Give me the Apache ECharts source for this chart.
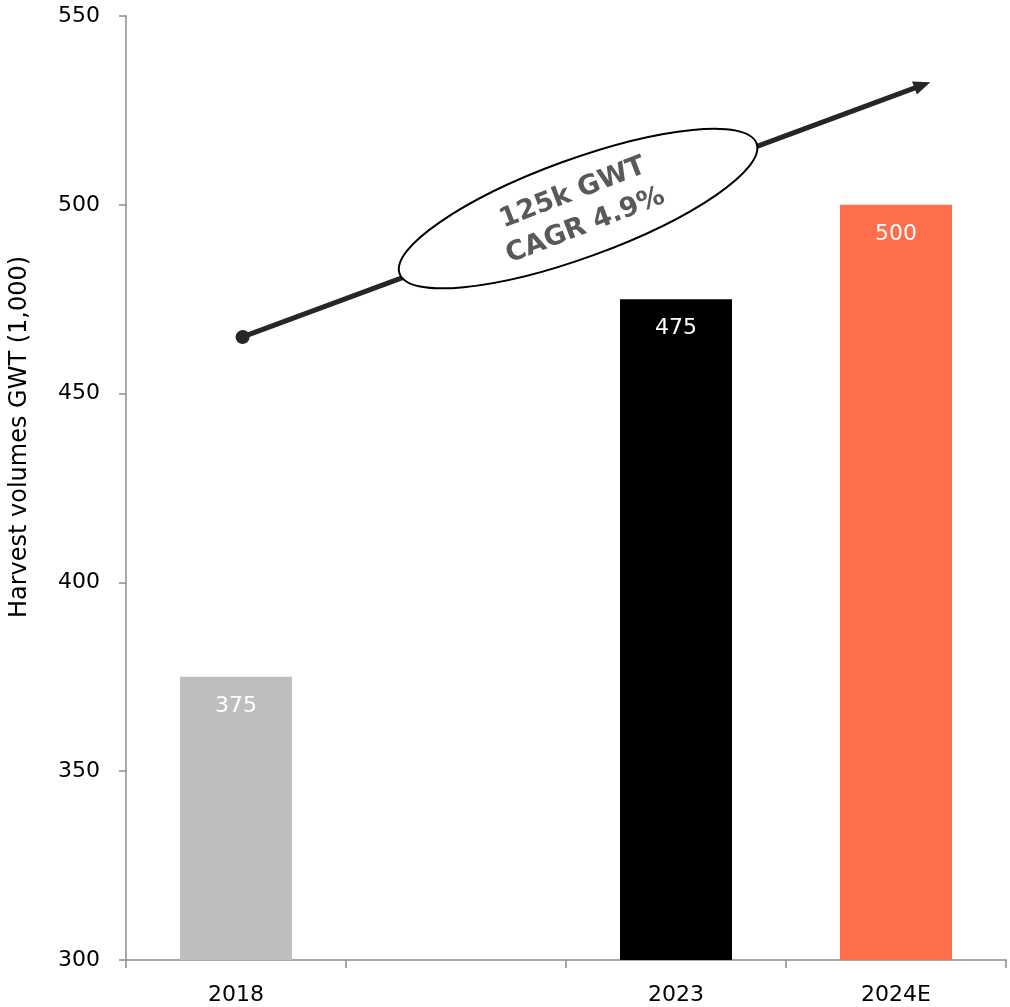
<!DOCTYPE html>
<html><head><meta charset="utf-8">
<script src="https://cdn.jsdelivr.net/npm/echarts@6/dist/echarts.min.js"></script>
<style>html,body{margin:0;padding:0;background:#fff}#c{width:1010px;height:1007px}</style>
</head><body><div id="c"></div>
<script>
const categories = ['2018', '', '2023', '2024E'];
const values = [375, null, 475, 500];
const barColors = ['#BDBEBD', null, '#000000', '#FF6E4A'];
const yMin = 300, yMax = 550, yInterval = 50;
const trendStart = [0.53, 465];
const trendEnd = [3.62, 531.7];
const annotationCenter = [2.055, 499];
const annotationText = ['125k GWT', 'CAGR 4.9%'];
const yAxisTitle = 'Harvest volumes GWT (1,000)';

const FONT = 'DejaVu Sans';
const chart = echarts.init(document.getElementById('c'));
const axisGray = '#8c8c8c';

chart.setOption({
  animation: false,
  grid: { left: 126, right: 4, top: 16, bottom: 47 },
  xAxis: [
    {
      type: 'category', data: categories,
      axisLine: { lineStyle: { color: axisGray, width: 1.5 } },
      axisTick: { show: true, length: 8, interval: 0, lineStyle: { color: axisGray, width: 1.5 } },
      axisLabel: { interval: 0, margin: 24, color: '#000', fontSize: 22, fontFamily: FONT }
    },
    { type: 'value', min: 0, max: 4, show: false }
  ],
  yAxis: {
    type: 'value', min: yMin, max: yMax, interval: yInterval,
    splitLine: { show: false },
    axisLine: { show: true, lineStyle: { color: axisGray, width: 1.5 } },
    axisTick: { show: true, length: 7, lineStyle: { color: axisGray, width: 1.5 } },
    axisLabel: { margin: 26, color: '#000', fontSize: 22, fontFamily: FONT }
  },
  series: [
    {
      type: 'bar', xAxisIndex: 0, barWidth: 112,
      data: values.map((v, i) => v == null ? '-' : { value: v, itemStyle: { color: barColors[i] } }),
      label: { show: true, position: 'insideTop', distance: 18, color: '#fff', fontSize: 22, fontFamily: FONT }
    },
    {
      type: 'line', xAxisIndex: 1, data: [], silent: true,
      markLine: {
        silent: true, animation: false,
        symbol: ['circle', 'triangle'], symbolSize: [14, 17],
        label: { show: false },
        lineStyle: { color: '#262626', width: 5, type: 'solid' },
        data: [[{ coord: trendStart }, { coord: trendEnd }]]
      }
    }
  ]
});

const c = chart.convertToPixel({ xAxisIndex: 1, yAxisIndex: 0 }, annotationCenter);
chart.setOption({
  graphic: [
    {
      type: 'ellipse', z: 100, x: c[0], y: c[1], rotation: 0.35,
      shape: { cx: 0, cy: 0, rx: 190, ry: 49 },
      style: { fill: '#fff', stroke: '#000', lineWidth: 2 }
    },
    {
      type: 'text', z: 101, x: c[0] + 1, y: c[1] + 1, rotation: 0.37,
      style: {
        text: annotationText.join('\n'), align: 'center', verticalAlign: 'middle',
        fontFamily: FONT, fontWeight: 'bold', fontSize: 27, lineHeight: 35, fill: '#595959'
      }
    },
    {
      type: 'text', x: 20, y: 437, rotation: Math.PI / 2,
      style: {
        text: yAxisTitle, align: 'center', verticalAlign: 'middle',
        fontFamily: FONT, fontSize: 24, fill: '#000'
      }
    }
  ]
});
</script>
</body></html>
